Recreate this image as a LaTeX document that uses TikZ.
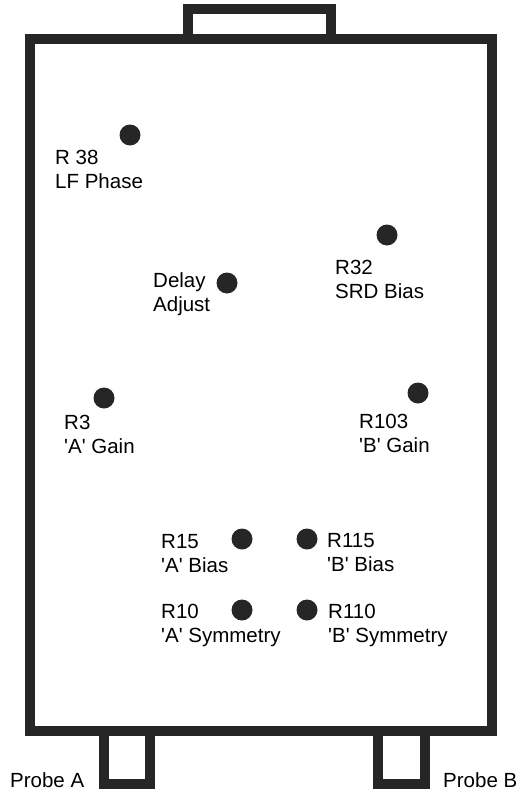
\documentclass[tikz,border=0pt]{standalone}
\usepackage{fontspec}
\setmainfont{Liberation Sans}
\usepackage{tikz}
\usetikzlibrary{positioning}
\newcommand{\qt}{\textquotesingle}

\begin{document}
\begin{tikzpicture}[x=1pt, y=-1pt, line join=miter,
  every node/.style={font=\fontsize{20.5}{24.5}\selectfont},
  pot/.style={circle, fill=black!85, inner sep=0pt, minimum size=21pt},
  lbl/.style={anchor=base west, align=left, inner sep=0pt},
  frame/.style={draw=black!85, line width=10pt}]
\useasboundingbox (0,0) rectangle (520,792);

\draw[frame] (30,39) rectangle (492,731);
\draw[frame] (188,39) -- (188,9.5) -- (331,9.5) -- (331,39);
\draw[frame] (104,731) -- (104,784) -- (149.5,784) -- (149.5,731);
\draw[frame] (377.5,731) -- (377.5,784) -- (425,784) -- (425,731);

\node[pot] (r38) at (130,135) {};
\node[pot] (delay) at (227,283) {};
\node[pot] (r32) at (387,235) {};
\node[pot] (r3) at (104,398) {};
\node[pot] (r103) at (418,393) {};
\node[pot] (r15) at (242,539) {};
\node[pot] (r115) at (307,539) {};
\node[pot] (r10) at (242,610) {};
\node[pot] (r110) at (307,610) {};

\node[lbl] (r38l) at (55,188.5) {R 38\\LF Phase};
\node[lbl] (delayl) at (153,311.5) {Delay\\Adjust};
\node[lbl] (r32l) at (335,298.5) {R32\\SRD Bias};
\node[lbl] (r3l) at (64,453.5) {R3\\\qt A\qt{} Gain};
\node[lbl] (r103l) at (359,452.5) {R103\\\qt B\qt{} Gain};
\node[lbl] (r15l) at (161,572.5) {R15\\\qt A\qt{} Bias};
\node[lbl] (r115l) at (327,571.5) {R115\\\qt B\qt{} Bias};
\node[lbl] (r10l) at (161,642.5) {R10\\\qt A\qt{} Symmetry};
\node[lbl] (r110l) at (328,642.5) {R110\\\qt B\qt{} Symmetry};

\node[lbl] (proba) at (10,787) {Probe A};
\node[lbl] (probb) at (443,787) {Probe B};
\end{tikzpicture}
\end{document}
